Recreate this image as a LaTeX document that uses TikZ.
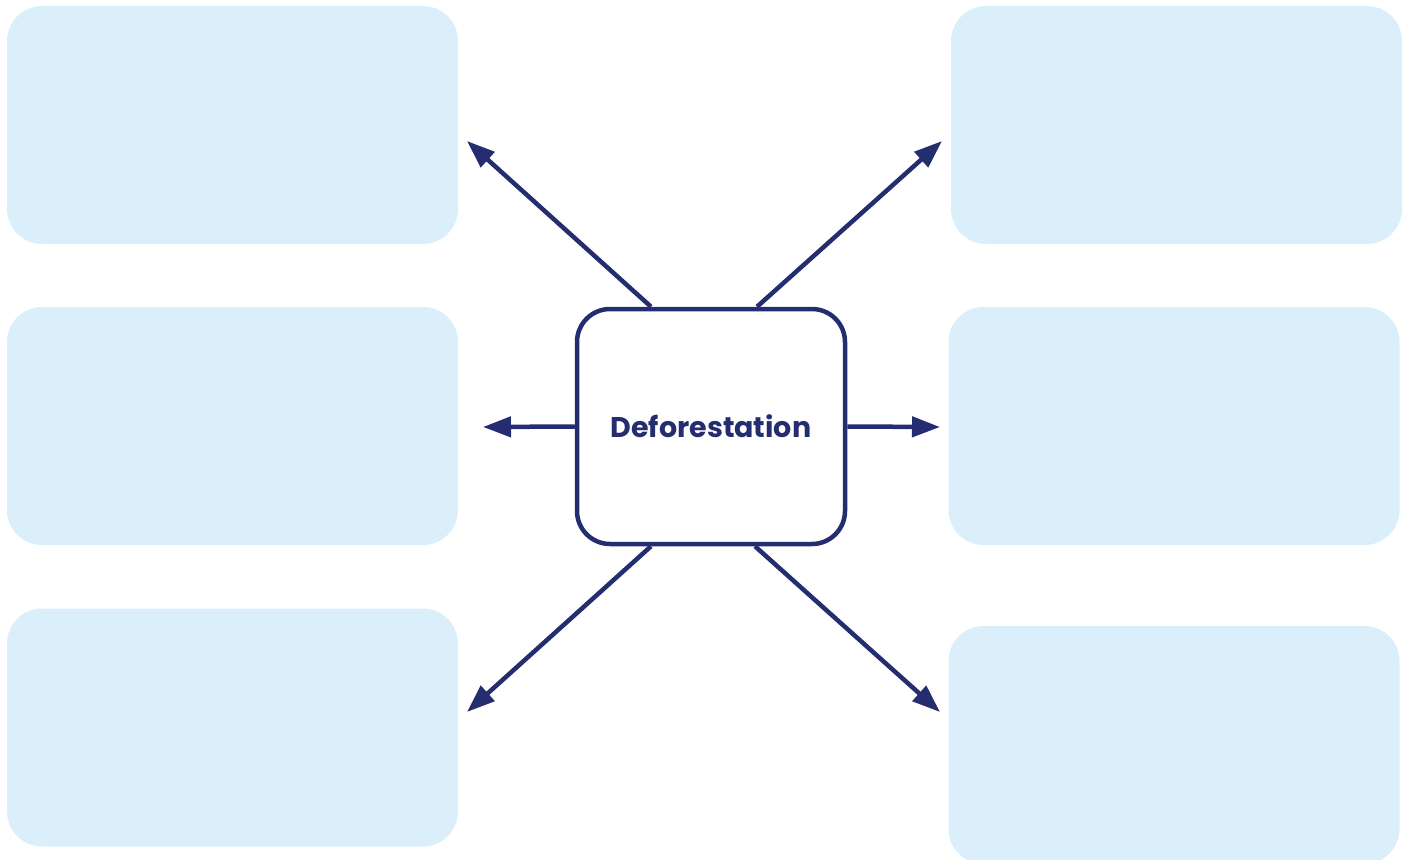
\documentclass[tikz,border=0pt]{standalone}
\usepackage{fontspec}
\setmainfont{Poppins}
\usetikzlibrary{calc}
\usetikzlibrary{arrows.meta}

\definecolor{navy}{RGB}{36,45,111}
\definecolor{paleblue}{RGB}{219,239,251}

\tikzset{
  emptybox/.style={rectangle, rounded corners=35pt, fill=paleblue, inner sep=0pt,
    minimum width=451pt, minimum height=238pt},
  hub/.style={rectangle, rounded corners=33pt, draw=navy, line width=4.5pt, fill=white,
    minimum width=268pt, minimum height=235pt, text=navy, font=\fontsize{28.5}{32}\selectfont\bfseries},
  spoke/.style={draw=navy, line width=4.5pt, -{Triangle[length=28pt,width=20pt]}}
}

\begin{document}
\begin{tikzpicture}[x=1pt,y=-1pt]

\useasboundingbox (0,0) rectangle (1410,859);
\clip (0,0) rectangle (1410,859);

\node[emptybox] (tl) at (232.5,125) {};
\node[emptybox] (ml) at (232.5,426) {};
\node[emptybox] (bl) at (232.5,727.5) {};
\node[emptybox] (tr) at (1176.5,125) {};
\node[emptybox] (mr) at (1174,426) {};
\node[emptybox] (br) at (1174,745) {};

\node[hub] (defo) at (711,426.5) {Deforestation};

\coordinate (tl-tip) at (467,141);
\coordinate (tr-tip) at (942,141);
\coordinate (ml-tip) at (483,427);
\coordinate (mr-tip) at (940,427);
\coordinate (bl-tip) at (467,712);
\coordinate (br-tip) at (940,712);

\draw[spoke] ($(defo.north)+(-60,0)$) -- (tl-tip);
\draw[spoke] ($(defo.north)+(46,0)$) -- (tr-tip);
\draw[spoke] (defo.west) -- (ml-tip);
\draw[spoke] (defo.east) -- (mr-tip);
\draw[spoke] ($(defo.south)+(-60,0)$) -- (bl-tip);
\draw[spoke] ($(defo.south)+(44,0)$) -- (br-tip);

\end{tikzpicture}
\end{document}
